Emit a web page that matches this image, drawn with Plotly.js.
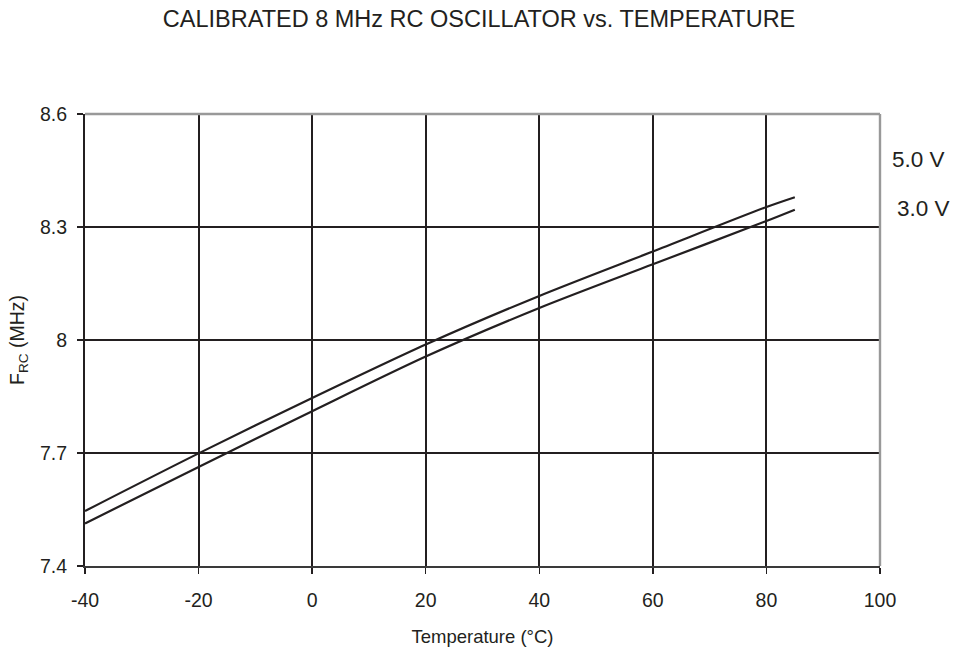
<!DOCTYPE html>
<html>
<head>
<meta charset="utf-8">
<script src="https://cdn.plot.ly/plotly-3.0.1.min.js"></script>
<style>html,body{margin:0;padding:0;background:#fff;}#chart{width:962px;height:652px;}</style>
</head>
<body>
<div id="chart"></div>
<script>
const temperature = [-40, -20, 0, 20, 40, 60, 80, 85];
const freq5V = [7.546, 7.699, 7.846, 7.988, 8.117, 8.235, 8.353, 8.379];
const freq3V = [7.513, 7.663, 7.811, 7.956, 8.085, 8.201, 8.316, 8.346];
const seriesNames = ["5.0 V", "3.0 V"];
const xTicks = [-40, -20, 0, 20, 40, 60, 80, 100];
const yTicks = [7.4, 7.7, 8, 8.3, 8.6];
const yTickText = ["7.4", "7.7", "8", "8.3", "8.6"];

const ink = "#231f20";
const font = "Liberation Sans, Arial, sans-serif";

const traces = [
  {x: temperature, y: freq5V, name: seriesNames[0], mode: "lines", line: {color: ink, width: 2.2, shape: "spline", smoothing: 0.8}},
  {x: temperature, y: freq3V, name: seriesNames[1], mode: "lines", line: {color: ink, width: 2.2, shape: "spline", smoothing: 0.8}}
];

const layout = {
  width: 962, height: 652,
  margin: {l: 84.5, r: 82, t: 113.5, b: 86},
  paper_bgcolor: "#fff", plot_bgcolor: "#fff",
  showlegend: false,
  font: {family: font, color: ink},
  title: {text: "CALIBRATED 8 MHz RC OSCILLATOR vs. TEMPERATURE", font: {size: 23.5, color: ink, family: font}, x: 0.498, xanchor: "center", y: 0.971, yanchor: "middle"},
  xaxis: {
    range: [-40, 100], tickvals: xTicks, ticktext: xTicks.map(String),
    showgrid: true, gridcolor: ink, gridwidth: 2, zeroline: false,
    showline: true, linecolor: "#3a3a3a", linewidth: 2,
    ticks: "outside", ticklen: 6, tickcolor: ink, tickwidth: 1.5,
    ticklabelstandoff: 10,
    tickfont: {size: 19.5, color: ink}, fixedrange: true,
    title: {text: "Temperature (°C)", font: {size: 18.5, color: ink}, standoff: 20}
  },
  yaxis: {
    range: [7.4, 8.6], tickvals: yTicks, ticktext: yTickText,
    showgrid: true, gridcolor: ink, gridwidth: 2, zeroline: false,
    showline: true, linecolor: ink, linewidth: 2,
    ticks: "outside", ticklen: 6, tickcolor: ink, tickwidth: 1.5,
    ticklabelstandoff: 6,
    tickfont: {size: 19.5, color: ink}, fixedrange: true,
    title: {text: "F<sub>RC</sub> (MHz)", font: {size: 19.5, color: ink}, standoff: 10}
  },
  shapes: [
    {type: "line", xref: "paper", yref: "paper", x0: 0, x1: 1, y0: 1, y1: 1, line: {color: "#999", width: 2.4}},
    {type: "line", xref: "paper", yref: "paper", x0: 1, x1: 1, y0: 0, y1: 1, line: {color: "#999", width: 2.4}}
  ],
  annotations: [
    {text: seriesNames[0], xref: "paper", yref: "paper", x: 1.0123, y: 0.899, xanchor: "left", yanchor: "middle", showarrow: false, font: {size: 22.5, color: ink}},
    {text: seriesNames[1], xref: "paper", yref: "paper", x: 1.0186, y: 0.791, xanchor: "left", yanchor: "middle", showarrow: false, font: {size: 22.5, color: ink}}
  ]
};

Plotly.newPlot("chart", traces, layout, {displayModeBar: false, staticPlot: true});
</script>
</body>
</html>
